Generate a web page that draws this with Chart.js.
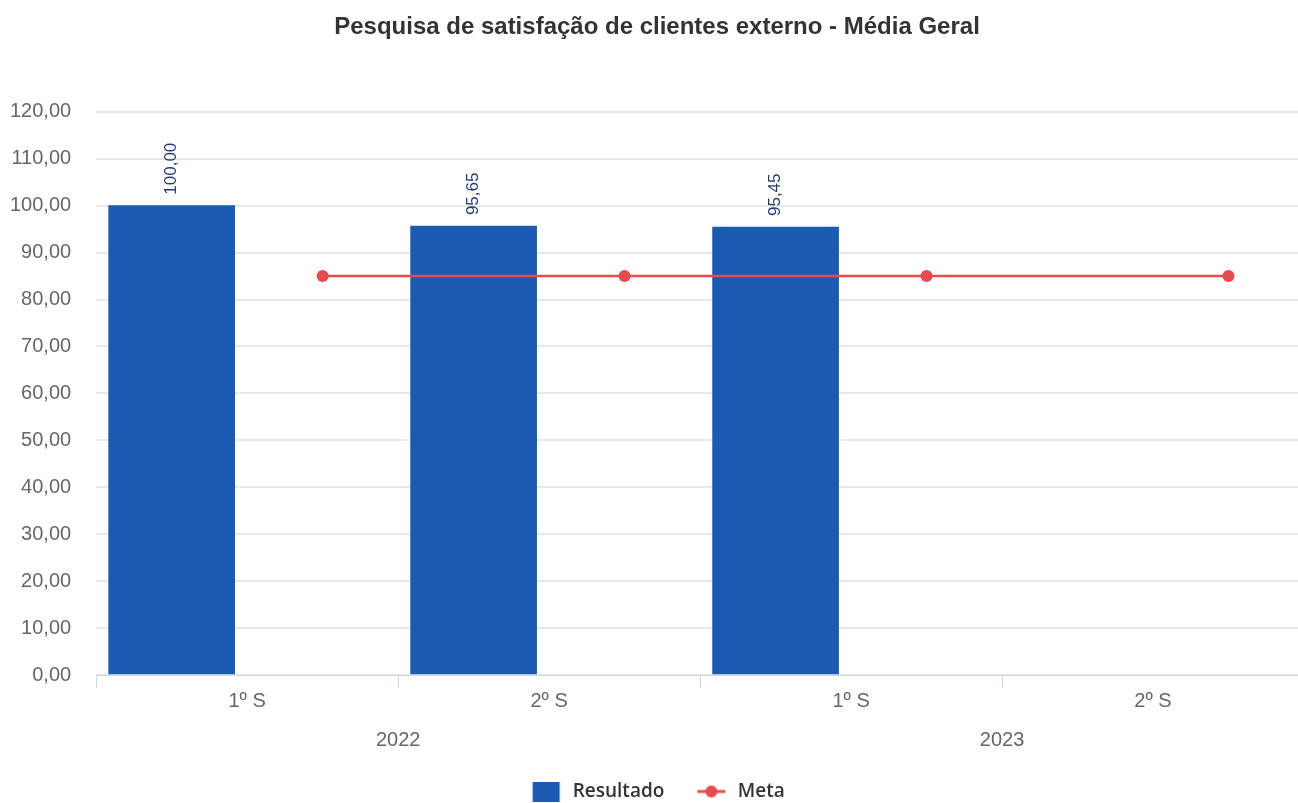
<!DOCTYPE html>
<html lang="pt">
<head>
<meta charset="UTF-8">
<title>Pesquisa de satisfação</title>
<script src="https://cdn.jsdelivr.net/npm/chart.js"></script>
<style>
  body { margin: 0; background: #fff; overflow: hidden; }
  #wrap { width: 1310px; height: 803px; }
</style>
</head>
<body>
<div id="wrap"><canvas id="grafico" width="1310" height="803"></canvas></div>
<script>
const semestres = ['1º S', '2º S', '1º S', '2º S'];
const anos = ['2022', '2023'];
const resultado = [100.00, 95.65, 95.45, null];
const meta = [85, 85, 85, 85];

const azul = '#1b5ab3';
const vermelho = '#e84a4f';
const transparente = 'rgba(0,0,0,0)';

const fmt = v => v.toFixed(2).replace('.', ',');

// figuras da legenda
function iconeBarra() {
  const c = document.createElement('canvas');
  c.width = 34; c.height = 20;
  const g = c.getContext('2d');
  g.fillStyle = azul;
  g.fillRect(3.5, 0, 27, 20);
  return c;
}
function iconeLinha() {
  const c = document.createElement('canvas');
  c.width = 34; c.height = 14;
  const g = c.getContext('2d');
  g.strokeStyle = vermelho; g.lineWidth = 3;
  g.beginPath(); g.moveTo(3, 7); g.lineTo(31, 7); g.stroke();
  g.fillStyle = vermelho;
  g.beginPath(); g.arc(17, 7, 6, 0, Math.PI * 2); g.fill();
  return c;
}

// rótulos verticais sobre as barras
const rotulos = {
  id: 'rotulos',
  afterDatasetsDraw(chart) {
    const ctx = chart.ctx;
    const m = chart.getDatasetMeta(0);
    ctx.save();
    ctx.font = '17px "Liberation Sans", Arial, sans-serif';
    ctx.fillStyle = '#233d73';
    ctx.textAlign = 'left';
    ctx.textBaseline = 'middle';
    m.data.forEach((bar, i) => {
      if (resultado[i] == null) return;
      ctx.save();
      ctx.translate(bar.x, bar.y - 11);
      ctx.rotate(-Math.PI / 2);
      ctx.fillText(fmt(resultado[i]), 0, 0);
      ctx.restore();
    });
    ctx.restore();
  }
};

const fonteEixo = { family: '"Liberation Sans", Arial', size: 20 };

new Chart(document.getElementById('grafico'), {
  type: 'bar',
  data: {
    datasets: [
      {
        type: 'bar',
        label: 'Resultado',
        data: resultado.map((v, i) => ({ x: i - 0.25, y: v })),
        xAxisID: 'xl',
        backgroundColor: azul,
        barThickness: 126,
        order: 2
      },
      {
        type: 'line',
        label: 'Meta',
        data: meta.map((v, i) => ({ x: i + 0.25, y: v })),
        xAxisID: 'xl',
        borderColor: vermelho,
        backgroundColor: vermelho,
        borderWidth: 2.5,
        pointRadius: 6,
        pointBackgroundColor: vermelho,
        pointBorderWidth: 0,
        order: 1
      }
    ]
  },
  options: {
    responsive: false,
    animation: false,
    layout: { padding: { left: 10, right: 6, top: 0, bottom: -8 } },
    plugins: {
      title: {
        display: true,
        text: 'Pesquisa de satisfação de clientes externo - Média Geral',
        color: '#333',
        font: { family: '"Liberation Sans", Arial', size: 24, weight: 'bold' },
        padding: { top: 13, bottom: 70 }
      },
      legend: {
        position: 'bottom',
        labels: {
          usePointStyle: true,
          pointStyleWidth: 34,
          padding: 30,
          color: '#333',
          font: { family: '"Open Sans", sans-serif', size: 19, weight: '600' },
          generateLabels: () => [
            { text: 'Resultado', pointStyle: iconeBarra(), datasetIndex: 0, fontColor: '#333', lineWidth: 0 },
            { text: 'Meta', pointStyle: iconeLinha(), datasetIndex: 1, fontColor: '#333', lineWidth: 0 }
          ]
        }
      },
      tooltip: { enabled: false }
    },
    scales: {
      xl: {
        type: 'linear',
        display: false,
        offset: false,
        min: -0.5,
        max: 3.5
      },
      x: {
        type: 'category',
        labels: semestres,
        offset: true,
        position: 'bottom',
        border: { color: '#ccd6eb', width: 1 },
        grid: { offset: true, drawOnChartArea: false, color: '#ccd6eb', tickLength: 13 },
        ticks: { color: '#666', padding: 1, font: fonteEixo }
      },
      x2: {
        type: 'category',
        labels: anos,
        offset: true,
        position: 'bottom',
        border: { display: false },
        grid: { drawOnChartArea: false, tickColor: transparente, color: transparente, tickLength: 14 },
        ticks: { color: '#666', padding: 0, font: fonteEixo }
      },
      y: {
        min: 0,
        max: 120,
        border: { display: false },
        grid: { color: '#e8e8e8', lineWidth: 2, tickColor: transparente, tickLength: 25 },
        ticks: {
          stepSize: 10,
          padding: 0,
          color: '#666',
          font: fonteEixo,
          callback: v => fmt(v)
        }
      }
    }
  },
  plugins: [rotulos]
});
</script>
</body>
</html>
